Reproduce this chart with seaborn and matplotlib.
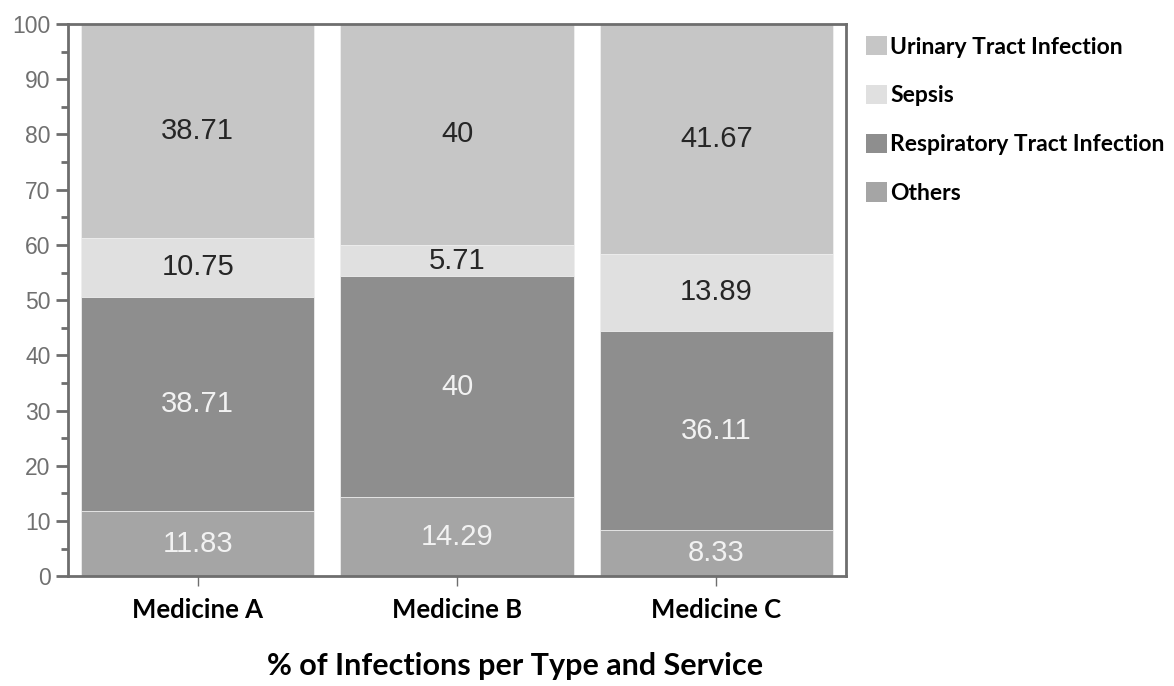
import pandas as pd
import seaborn as sns
import matplotlib.pyplot as plt
from matplotlib.patches import Patch
from matplotlib.ticker import MultipleLocator

# dados (% por tipo de infecção)
services = ["Medicine A", "Medicine B", "Medicine C"]
others = [11.83, 14.29, 8.33]
respiratory = [38.71, 40, 36.11]
sepsis = [10.75, 5.71, 13.89]
urinary = [38.71, 40, 41.67]

layers = ["Others", "Respiratory Tract Infection", "Sepsis", "Urinary Tract Infection"]
colors = {"Urinary Tract Infection": "#c6c6c6", "Sepsis": "#e0e0e0",
          "Respiratory Tract Infection": "#8e8e8e", "Others": "#a5a5a5"}
text_colors = {"Urinary Tract Infection": "#262626", "Sepsis": "#262626",
               "Respiratory Tract Infection": "#f2f2f2", "Others": "#f2f2f2"}

df = pd.DataFrame({"Service": services, "Others": others,
                   "Respiratory Tract Infection": respiratory,
                   "Sepsis": sepsis, "Urinary Tract Infection": urinary})

# acumulado para empilhar
cum = df[layers].cumsum(axis=1)
cum["Service"] = services

bold_font = "Lato"

sns.set_style("white")
fig = plt.figure(figsize=(11.74, 6.86), dpi=100)
ax = fig.add_axes([0.058, 0.160, 0.6626, 0.805])

# desenha do topo para a base, sobrepondo
for layer in reversed(layers):
    sns.barplot(data=cum, x="Service", y=layer, color=colors[layer], width=0.9,
                saturation=1, edgecolor="#f0f0f0", linewidth=0.6, ax=ax)

# rótulos dos valores no centro de cada segmento
for i in range(len(services)):
    base = 0
    for layer in layers:
        v = df[layer][i]
        ax.text(i, base + v / 2, f"{v:g}", ha="center", va="center",
                fontsize=21, color=text_colors[layer], family="Liberation Sans")
        base += v

ax.set_ylim(0, 100)
ax.set_xlim(-0.5, 2.5)
ax.yaxis.set_major_locator(MultipleLocator(10))
ax.yaxis.set_minor_locator(MultipleLocator(5))
ax.tick_params(axis="y", which="major", length=9, width=2, color="#6e6e6e",
               labelsize=16.5, labelcolor="#707070", left=True)
ax.tick_params(axis="y", which="minor", length=5, width=2, color="#6e6e6e", left=True)
ax.tick_params(axis="x", length=7, width=1, color="#6e6e6e", bottom=True, pad=9)
for lab in ax.get_yticklabels():
    lab.set_family("Liberation Sans")
for lab in ax.get_xticklabels():
    lab.set_family(bold_font)
    lab.set_fontweight("bold")
    lab.set_fontsize(18.5)
    lab.set_color("black")

for s in ax.spines.values():
    s.set_visible(True)
    s.set_color("#6e6e6e")
    s.set_linewidth(2)

ax.set_ylabel("")
ax.set_xlabel("% of Infections per Type and Service", fontsize=22, fontweight="bold",
              family=bold_font, color="black", labelpad=21)
ax.xaxis.label.set_x(0.575)

handles = [Patch(facecolor=colors[l], edgecolor="none", label=l) for l in reversed(layers)]
leg = fig.legend(handles=handles, loc="upper left", bbox_to_anchor=(0.7376, 0.9475),
                 frameon=False, prop={"family": bold_font, "weight": "bold", "size": 16.5},
                 handlelength=0.92, handleheight=0.92, handletextpad=0.15,
                 labelspacing=1.19, borderaxespad=0, borderpad=0)
for t in leg.get_texts():
    t.set_color("black")

fig.savefig("out.png", dpi=100)
